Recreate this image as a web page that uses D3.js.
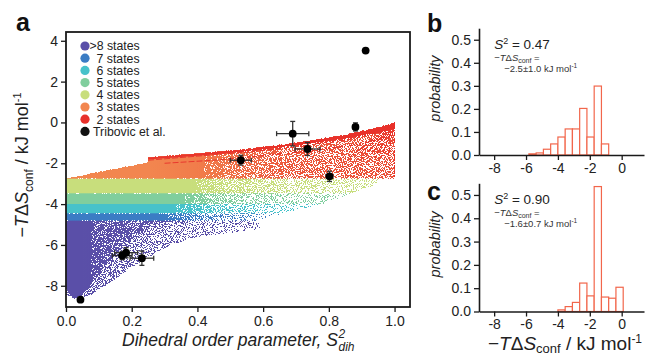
<!DOCTYPE html>
<html><head><meta charset="utf-8">
<script src="https://cdn.jsdelivr.net/npm/d3@7"></script>
<style>
body{margin:0;background:#fff}
svg{display:block;font-family:"Liberation Sans",Arial,Helvetica,sans-serif}
</style>
</head><body>
<svg id="chart" width="650" height="354"></svg>
<script>
// ---------------- DATA ----------------
const stateLabels = [">8 states","7 states","6 states","5 states","4 states","3 states","2 states","Tribovic et al."];
const stateColors = ["#5a4fa8","#3b7cc4","#47c2ca","#80ce9d","#c8de7c","#f2864f","#e8302a","#111111"];

const xTicksA = [0,0.2,0.4,0.6,0.8,1.0];
const yTicksA = [-8,-6,-4,-2,0,2,4];

// cloud regions (data coordinates [S2, -TdS])
const region3States = [[0,-2.75],[0.25,-1.95],[0.25,-1.72],[0.4,-1.52],[0.55,-1.3],[0.7,-1.0],[0.85,-0.6],[0.95,-0.25],[1.0,0.0],[1.0,-2.75]];
const region2Sparse = [[0.25,-1.72],[0.4,-1.52],[0.55,-1.3],[0.7,-1.0],[0.85,-0.6],[0.95,-0.25],[1.0,0.0],[1.0,-2.75],[0.25,-2.75]];
const region2Strip  = [[0.25,-1.72],[0.4,-1.52],[0.55,-1.3],[0.7,-1.0],[0.85,-0.6],[0.95,-0.25],[1.0,0.0],[1.0,-0.3],[0.95,-0.5],[0.85,-0.8],[0.7,-1.14],[0.55,-1.42],[0.4,-1.63],[0.25,-1.82]];
const region4States = [[0,-2.75],[0.97,-2.75],[0.93,-3.15],[0.87,-3.47],[0,-3.47]];
const region5States = [[0,-3.47],[0.87,-3.47],[0.78,-4.0],[0,-4.0]];
const region6States = [[0,-4.0],[0.78,-4.0],[0.66,-4.45],[0,-4.45]];
const region7States = [[0,-4.45],[0.66,-4.45],[0.58,-4.8],[0,-4.8]];
const region8Sparse = [[0,-4.8],[0.58,-4.8],[0.6,-5.2],[0.5,-5.4],[0.4,-5.6],[0.32,-6.0],[0.25,-6.6],[0.18,-7.3],[0.12,-8.0],[0.07,-8.5],[0.03,-8.65],[0,-8.4]];
const region8Dense  = [[0,-4.8],[0.38,-4.8],[0.32,-4.88],[0.25,-5.2],[0.19,-5.85],[0.14,-6.6],[0.1,-7.4],[0.07,-8.1],[0.045,-8.5],[0.02,-8.58],[0.005,-8.35],[0,-8.0]];

// density (opacity) along S2 for each region
const fade3 = [[0,1],[0.4,1],[0.55,0.55],[0.7,0.35],[1.0,0.3]];
const fade2 = [[0.25,0],[0.45,0.15],[0.65,0.3],[1.0,0.35]];
const fade2Strip = [[0.25,0.95],[1.0,0.9]];
const fade4 = [[0,1],[0.38,1],[0.5,0.6],[0.7,0.4],[0.9,0.3],[0.97,0.15]];
const fade5 = [[0,1],[0.35,1],[0.47,0.5],[0.65,0.3],[0.87,0.15]];
const fade6 = [[0,1],[0.32,1],[0.45,0.5],[0.6,0.3],[0.78,0.12]];
const fade7 = [[0,1],[0.3,1],[0.4,0.5],[0.55,0.25],[0.66,0.1]];
const fade8Sparse = [[0,0.6],[0.2,0.45],[0.4,0.3],[0.6,0.15]];
const fade8Dense = [[0,1],[0.05,1],[0.12,0.7],[0.2,0.55],[0.38,0.45]];

const redLine1 = [[0.25,-1.85],[0.4,-1.65],[0.55,-1.45],[0.7,-1.2],[0.85,-0.85],[0.95,-0.5],[1.0,-0.25]];
const redLine2 = [[0.3,-2.0],[0.45,-1.85],[0.6,-1.62],[0.75,-1.38],[0.9,-1.05],[1.0,-0.6]];
const redEdge  = [[1.0,0.0],[1.0,-2.75]];
const fanEnds  = [[0.86,-1.74],[0.88,-1.76],[0.9,-1.76],[0.92,-1.74],[0.94,-1.72],[0.96,-1.7],[0.98,-1.7]];
const fanApex  = [1.0,-0.02];

// Tribovic et al. points
const tribX    = [0.044,0.912,0.690,0.735,0.881,0.532,0.802,0.183,0.171,0.231];
const tribY    = [-8.68,3.52,-0.55,-1.30,-0.22,-1.85,-2.64,-6.38,-6.52,-6.65];
const tribXErr = [0,0,0.049,0.038,0.008,0.032,0.01,0.035,0.03,0.036];
const tribYErr = [0,0,0.6,0.32,0.2,0.24,0.25,0.25,0.2,0.35];

// histograms
const binStarts = [-5.82,-5.365,-4.91,-4.455,-4.0,-3.545,-3.09,-2.635,-2.18,-1.725,-1.27,-0.815,-0.36];
const binWidth = 0.455;
const probB = [0.005,0.009,0.025,0.048,0.078,0.113,0.113,0.202,0.078,0.299,0.048,0,0];
const probC = [0,0,0,0,0.007,0.021,0.039,0.122,0.067,0.536,0.062,0.057,0.104];
const xTicksH = [-8,-6,-4,-2,0];
const yTicksH = [0,0.1,0.2,0.3,0.4,0.5];

// ---------------- DRAW ----------------
const svg = d3.select("#chart");
const defs = svg.append("defs");
const ink = "#1a1a1a";

const x = d3.scaleLinear().domain([0,1.047]).range([66,410]);
const y = d3.scaleLinear().domain([-9.04,4.43]).range([307,32]);

// speckle filter: turns partial opacity into scattered dots
const f = defs.append("filter").attr("id","speckle").attr("filterUnits","userSpaceOnUse")
  .attr("x",60).attr("y",25).attr("width",360).attr("height",290)
  .attr("color-interpolation-filters","sRGB");
f.append("feTurbulence").attr("type","fractalNoise").attr("baseFrequency","0.9").attr("numOctaves",2).attr("seed",7).attr("result","noise");
f.append("feColorMatrix").attr("in","noise").attr("type","matrix")
  .attr("values","0 0 0 0 0  0 0 0 0 0  0 0 0 0 0  4 0 0 0 -1.5").attr("result","n0");
const ct = f.append("feComponentTransfer").attr("in","n0").attr("result","n");
ct.append("feFuncA").attr("type","linear").attr("slope",0.9).attr("intercept",0.05);
f.append("feComposite").attr("in","SourceAlpha").attr("in2","n").attr("operator","arithmetic")
  .attr("k1",0).attr("k2",1).attr("k3",-1).attr("k4",0.5).attr("result","diff");
const ct2 = f.append("feComponentTransfer").attr("in","diff").attr("result","mask");
ct2.append("feFuncA").attr("type","discrete").attr("tableValues","0 1");
f.append("feColorMatrix").attr("in","SourceGraphic").attr("type","matrix")
  .attr("values","1 0 0 0 0  0 1 0 0 0  0 0 1 0 0  0 0 0 0 1").attr("result","opaque");
f.append("feComposite").attr("in","opaque").attr("in2","mask").attr("operator","in");

function grad(id,color,stops){
  const g = defs.append("linearGradient").attr("id",id).attr("gradientUnits","userSpaceOnUse")
    .attr("x1",x(0)).attr("x2",x(1)).attr("y1",0).attr("y2",0);
  stops.forEach(s=>g.append("stop").attr("offset",s[0]).attr("stop-color",color).attr("stop-opacity",s[1]));
  return "url(#"+id+")";
}
const line = d3.line().x(d=>x(d[0])).y(d=>y(d[1]));

defs.append("clipPath").attr("id","clipA").append("rect")
  .attr("x",x(0)).attr("y",y(4.43)).attr("width",x(1.047)-x(0)).attr("height",y(-9.04)-y(4.43));

const cloud = svg.append("g").attr("clip-path","url(#clipA)").append("g").attr("filter","url(#speckle)");
const regionList = [
  [region8Sparse, stateColors[0], fade8Sparse, "g8s"],
  [region8Dense, stateColors[0], fade8Dense, "g8d"],
  [region7States, stateColors[1], fade7, "g7"],
  [region6States, stateColors[2], fade6, "g6"],
  [region5States, stateColors[3], fade5, "g5"],
  [region4States, stateColors[4], fade4, "g4"],
  [region3States, stateColors[5], fade3, "g3"],
  [region2Sparse, stateColors[6], fade2, "g2s"],
  [region2Strip, stateColors[6], fade2Strip, "g2d"]
];
regionList.forEach(r=>{
  cloud.append("path").attr("d",line(r[0])+"Z").attr("fill",grad(r[3],r[1],r[2]));
});
[redLine1,redLine2,redEdge].forEach(l=>{
  cloud.append("path").attr("d",line(l)).attr("fill","none").attr("stroke",stateColors[6])
    .attr("stroke-width",0.9).attr("stroke-dasharray","6,2");
});
fanEnds.forEach(e=>{
  cloud.append("path").attr("d",line([fanApex,e])).attr("fill","none").attr("stroke",stateColors[6]).attr("stroke-width",0.8);
});

// frame
svg.append("rect").attr("x",x(0)).attr("y",y(4.43)).attr("width",x(1.047)-x(0)).attr("height",y(-9.04)-y(4.43))
  .attr("fill","none").attr("stroke",ink).attr("stroke-width",1.8);

// axes panel a
const axX = svg.append("g").attr("transform",`translate(0,${y(-9.04)})`)
  .call(d3.axisBottom(x).tickValues(xTicksA).tickFormat(d3.format(".1f")).tickSize(5).tickPadding(4));
const axY = svg.append("g").attr("transform",`translate(${x(0)},0)`)
  .call(d3.axisLeft(y).tickValues(yTicksA).tickFormat(d=>String(d)).tickSize(5).tickPadding(3));
[axX,axY].forEach(a=>{
  a.select(".domain").remove();
  a.selectAll("line").attr("stroke",ink).attr("stroke-width",1.3);
  a.selectAll("text").attr("font-size",14).attr("fill","#222").attr("font-family",null);
});

// error bars + points
const eb = svg.append("g").attr("stroke","#333").attr("stroke-width",1.3).attr("fill","none");
tribX.forEach((vx,i)=>{
  const vy = tribY[i];
  if (tribXErr[i]>0){
    eb.append("line").attr("x1",x(vx-tribXErr[i])).attr("x2",x(vx+tribXErr[i])).attr("y1",y(vy)).attr("y2",y(vy));
    [vx-tribXErr[i],vx+tribXErr[i]].forEach(e=>eb.append("line").attr("x1",x(e)).attr("x2",x(e)).attr("y1",y(vy)-2.5).attr("y2",y(vy)+2.5));
  }
  if (tribYErr[i]>0){
    eb.append("line").attr("x1",x(vx)).attr("x2",x(vx)).attr("y1",y(vy-tribYErr[i])).attr("y2",y(vy+tribYErr[i]));
    [vy-tribYErr[i],vy+tribYErr[i]].forEach(e=>eb.append("line").attr("x1",x(vx)-2.5).attr("x2",x(vx)+2.5).attr("y1",y(e)).attr("y2",y(e)));
  }
});
svg.append("g").selectAll("circle").data(tribX).join("circle")
  .attr("cx",d=>x(d)).attr("cy",(d,i)=>y(tribY[i])).attr("r",3.9).attr("fill","#000");

// legend
const lg = svg.append("g");
stateLabels.forEach((t,i)=>{
  const cy = 46 + i*12.2;
  lg.append("circle").attr("cx",85).attr("cy",cy).attr("r",4.6).attr("fill",stateColors[i]);
  lg.append("text").attr("x", i===0 ? 89.5 : (i===7 ? 93 : 96.5)).attr("y",cy+4.3)
    .attr("font-size",12.3).attr("fill","#222").text(t);
});

// titles panel a
svg.append("text").attr("x",16).attr("y",31).attr("font-size",25).attr("font-weight","bold").attr("fill","#111").text("a");
const xt = svg.append("text").attr("x",122).attr("y",346).attr("font-size",17.5)
  .attr("font-style","italic").attr("fill","#222").text("Dihedral order parameter, S");
const xtEnd = 122 + xt.node().getComputedTextLength();
svg.append("text").attr("x",xtEnd+0.5).attr("y",338).attr("font-size",12).attr("font-style","italic").attr("fill","#222").text("2");
svg.append("text").attr("x",xtEnd+0.5).attr("y",351).attr("font-size",12).attr("font-style","italic").attr("fill","#222").text("dih");

const yt = svg.append("text").attr("transform","translate(28,165) rotate(-90)").attr("text-anchor","middle")
  .attr("font-size",18).attr("fill","#222");
yt.append("tspan").text("\u2212");
yt.append("tspan").attr("font-style","italic").text("T");
yt.append("tspan").text("\u0394");
yt.append("tspan").attr("font-style","italic").text("S");
yt.append("tspan").attr("font-size",12).attr("dy",5).text("conf");
yt.append("tspan").attr("dy",-5).text(" / kJ mol");
yt.append("tspan").attr("font-size",11).attr("dy",-7).text("-1");

// ---------------- histograms ----------------
const xh = d3.scaleLinear().domain([-8.95,1.4]).range([479,644]);
function hist(prob, top, bottom, label, s2txt, valtxt, lblY){
  const yh = d3.scaleLinear().domain([0,0.55]).range([bottom, top]);
  const g = svg.append("g");
  g.selectAll("rect").data(binStarts.filter((b,i)=>prob[i]>0)).join("rect")
    .attr("x",d=>xh(d)).attr("width",xh(binWidth)-xh(0))
    .attr("y",d=>yh(prob[binStarts.indexOf(d)])).attr("height",d=>yh(0)-yh(prob[binStarts.indexOf(d)]))
    .attr("fill","#fff").attr("stroke","#f2664b").attr("stroke-width",1.2);
  const ax = g.append("g").attr("transform",`translate(0,${bottom})`)
    .call(d3.axisBottom(xh).tickValues(xTicksH).tickFormat(d=>String(d)).tickSize(5).tickSizeOuter(0).tickPadding(3));
  const ay = g.append("g").attr("transform",`translate(${xh(-8.95)},0)`)
    .call(d3.axisLeft(yh).tickValues(yTicksH).tickFormat(d3.format(".1f")).tickSize(5).tickSizeOuter(0).tickPadding(3));
  [ax,ay].forEach(a=>{
    a.selectAll("line").attr("stroke",ink).attr("stroke-width",1.3);
    a.select(".domain").attr("stroke",ink).attr("stroke-width",1.6);
    a.selectAll("text").attr("font-size",14).attr("fill","#222").attr("font-family",null);
  });
  svg.append("text").attr("x",427).attr("y",lblY).attr("font-size",25).attr("font-weight","bold").attr("fill","#111").text(label);
  svg.append("text").attr("transform",`translate(440,${(top+bottom)/2-3}) rotate(-90)`).attr("text-anchor","middle")
    .attr("font-size",14.5).attr("font-style","italic").attr("fill","#222").text("probability");
  const tx = xh(-8.0);
  const t1 = svg.append("text").attr("x",tx).attr("y",top+21).attr("font-size",13.5).attr("fill","#222");
  t1.append("tspan").attr("font-style","italic").text("S");
  t1.append("tspan").attr("font-size",9).attr("dy",-5).text("2");
  t1.append("tspan").attr("dy",5).text(" = "+s2txt);
  const t2 = svg.append("text").attr("x",tx).attr("y",top+33).attr("font-size",9.5).attr("fill","#333");
  t2.append("tspan").text("\u2212");
  t2.append("tspan").attr("font-style","italic").text("T");
  t2.append("tspan").text("\u0394");
  t2.append("tspan").attr("font-style","italic").text("S");
  t2.append("tspan").attr("font-size",7).attr("dy",1.5).text("conf");
  t2.append("tspan").attr("dy",-1.5).text(" =");
  const t3 = svg.append("text").attr("x",tx+10).attr("y",top+44).attr("font-size",9.5).attr("fill","#333");
  t3.append("tspan").text(valtxt+" kJ mol");
  t3.append("tspan").attr("font-size",6.5).attr("dy",-4).text("-1");
}
hist(probB, 28.2, 155, "b", "0.47", "\u22122.5\u00b11.0", 32);
hist(probC, 183.3, 311.5, "c", "0.90", "\u22121.6\u00b10.7", 200);

const ht = svg.append("text").attr("x",565).attr("y",349.5).attr("text-anchor","middle").attr("font-size",19).attr("fill","#222");
ht.append("tspan").text("\u2212");
ht.append("tspan").attr("font-style","italic").text("T");
ht.append("tspan").text("\u0394");
ht.append("tspan").attr("font-style","italic").text("S");
ht.append("tspan").attr("font-size",13).attr("dy",3).text("conf");
ht.append("tspan").attr("dy",-3).text(" / kJ mol");
ht.append("tspan").attr("font-size",12).attr("dy",-7).text("-1");
</script>
</body></html>
